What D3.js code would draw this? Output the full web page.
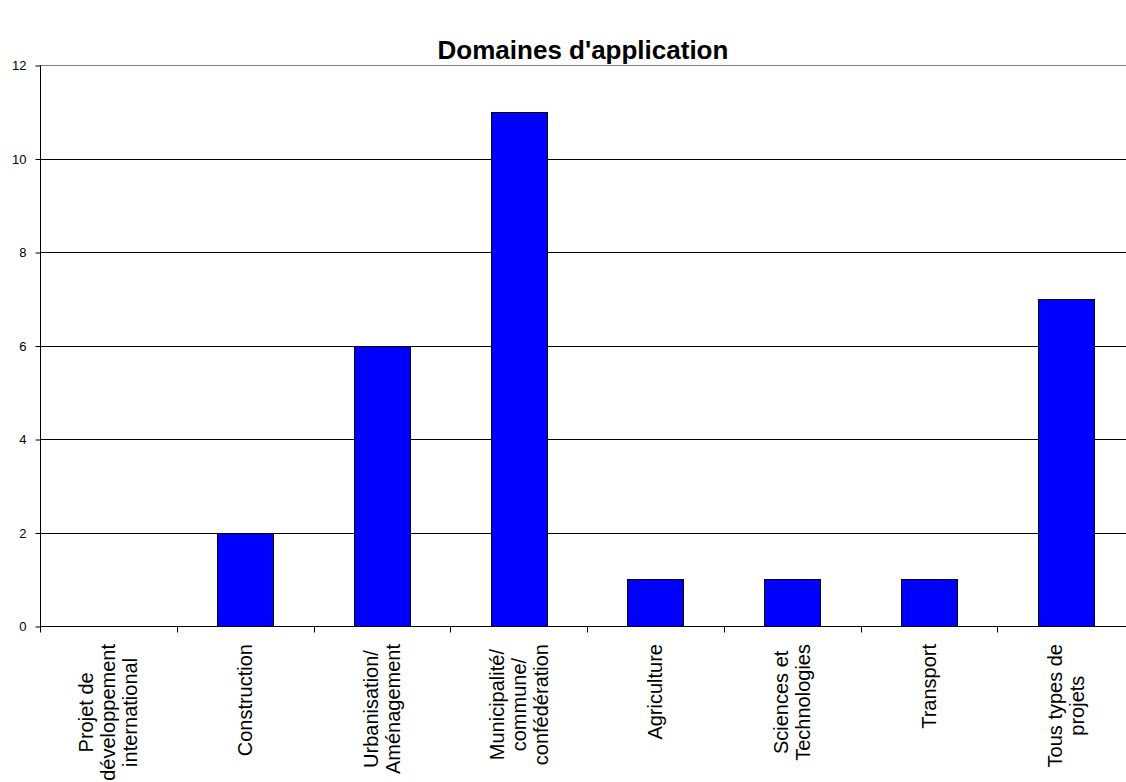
<!DOCTYPE html>
<html>
<head>
<meta charset="utf-8">
<script src="https://cdn.jsdelivr.net/npm/d3@7"></script>
<style>
  html, body { margin: 0; padding: 0; background: #fff; }
  svg { display: block; font-family: "Liberation Sans", Arial, sans-serif; }
</style>
</head>
<body>
<svg id="chart" width="1126" height="782"></svg>
<script>
// Category names (line breaks as shown under the axis)
const categories = [
  "Projet de\ndéveloppement\ninternational",
  "Construction",
  "Urbanisation/\nAménagement",
  "Municipalité/\ncommune/\nconfédération",
  "Agriculture",
  "Sciences et\nTechnologies",
  "Transport",
  "Tous types de\nprojets"
];
// Number of entries per domain
const values = [0, 2, 6, 11, 1, 1, 1, 7];
// Y axis ticks
const yTicks = [0, 2, 4, 6, 8, 10, 12];
const title = "Domaines d'application";

const svg = d3.select("#chart");
const plot = { left: 40, right: 1134, top: 65, bottom: 626 };

const n = categories.length;
const pad = 1 - 56 / ((plot.right - plot.left) / n);
const x = d3.scaleBand()
  .domain(d3.range(n))
  .range([plot.left, plot.right])
  .paddingInner(pad)
  .paddingOuter(pad / 2);
const step = x.step();

const y = d3.scaleLinear().domain([0, 12]).range([plot.bottom, plot.top]);

// Title
svg.append("text")
  .attr("x", 583)
  .attr("y", 59)
  .attr("text-anchor", "middle")
  .attr("font-weight", "bold")
  .attr("font-size", 26)
  .attr("fill", "#000")
  .text(title);

// Horizontal gridlines
svg.append("g")
  .selectAll("line")
  .data(yTicks.filter(d => d > 0))
  .join("line")
  .attr("x1", plot.left)
  .attr("x2", 1126)
  .attr("y1", d => Math.round(y(d)) + 0.5)
  .attr("y2", d => Math.round(y(d)) + 0.5)
  .attr("stroke", d => d === 12 ? "#808080" : "#000")
  .attr("stroke-width", 1);

// Bars
svg.append("g")
  .selectAll("rect")
  .data(values)
  .join("rect")
  .attr("x", (d, i) => Math.round(x(i)) + 0.5)
  .attr("y", d => Math.round(y(d)) + 0.5)
  .attr("width", Math.round(x.bandwidth()))
  .attr("height", d => Math.round(y(0)) - Math.round(y(d)))
  .attr("fill", "#0000ff")
  .attr("stroke", "#000")
  .attr("stroke-width", 1)
  .style("display", d => d > 0 ? null : "none");

// Y axis
const yAxis = svg.append("g")
  .attr("transform", `translate(${plot.left + 0.5},0.5)`)
  .call(d3.axisLeft(y).tickValues(yTicks).tickSize(5).tickPadding(9).tickFormat(d3.format("d")));
yAxis.select(".domain").attr("stroke", "#000").attr("d", `M0,${Math.round(y(12))}V${Math.round(y(0))}`);
yAxis.selectAll(".tick line").attr("stroke", "#000");
yAxis.selectAll(".tick text")
  .attr("font-size", 13)
  .attr("font-family", "Liberation Sans, Arial, sans-serif")
  .attr("fill", "#000");

// X axis line and category boundary ticks
const xg = svg.append("g");
xg.append("line")
  .attr("x1", plot.left).attr("x2", 1126)
  .attr("y1", Math.round(y(0)) + 0.5).attr("y2", Math.round(y(0)) + 0.5)
  .attr("stroke", "#000");
xg.selectAll("line.tk")
  .data(d3.range(n + 1))
  .join("line")
  .attr("class", "tk")
  .attr("x1", i => Math.round(plot.left + i * step) + 0.5)
  .attr("x2", i => Math.round(plot.left + i * step) + 0.5)
  .attr("y1", Math.round(y(0)) + 0.5)
  .attr("y2", Math.round(y(0)) + 6.5)
  .attr("stroke", "#000");

// Rotated category labels: block top-aligned, lines centered within the block
const labelTop = 644;
const lineH = 22;
const labels = svg.append("g")
  .attr("font-size", 20)
  .attr("fill", "#000");

categories.forEach((c, i) => {
  const lines = c.split("\n");
  const cx = x(i) + x.bandwidth() / 2;
  const g = labels.append("g").attr("transform", `translate(${cx},0) rotate(-90)`);
  const texts = g.selectAll("text")
    .data(lines)
    .join("text")
    .attr("text-anchor", "middle")
    .attr("y", (d, k) => (k - (lines.length - 1) / 2) * lineH)
    .attr("dy", "0.35em")
    .text(d => d);
  const maxW = d3.max(texts.nodes(), t => t.getComputedTextLength());
  texts.attr("x", -(labelTop + maxW / 2));
});
</script>
</body>
</html>
